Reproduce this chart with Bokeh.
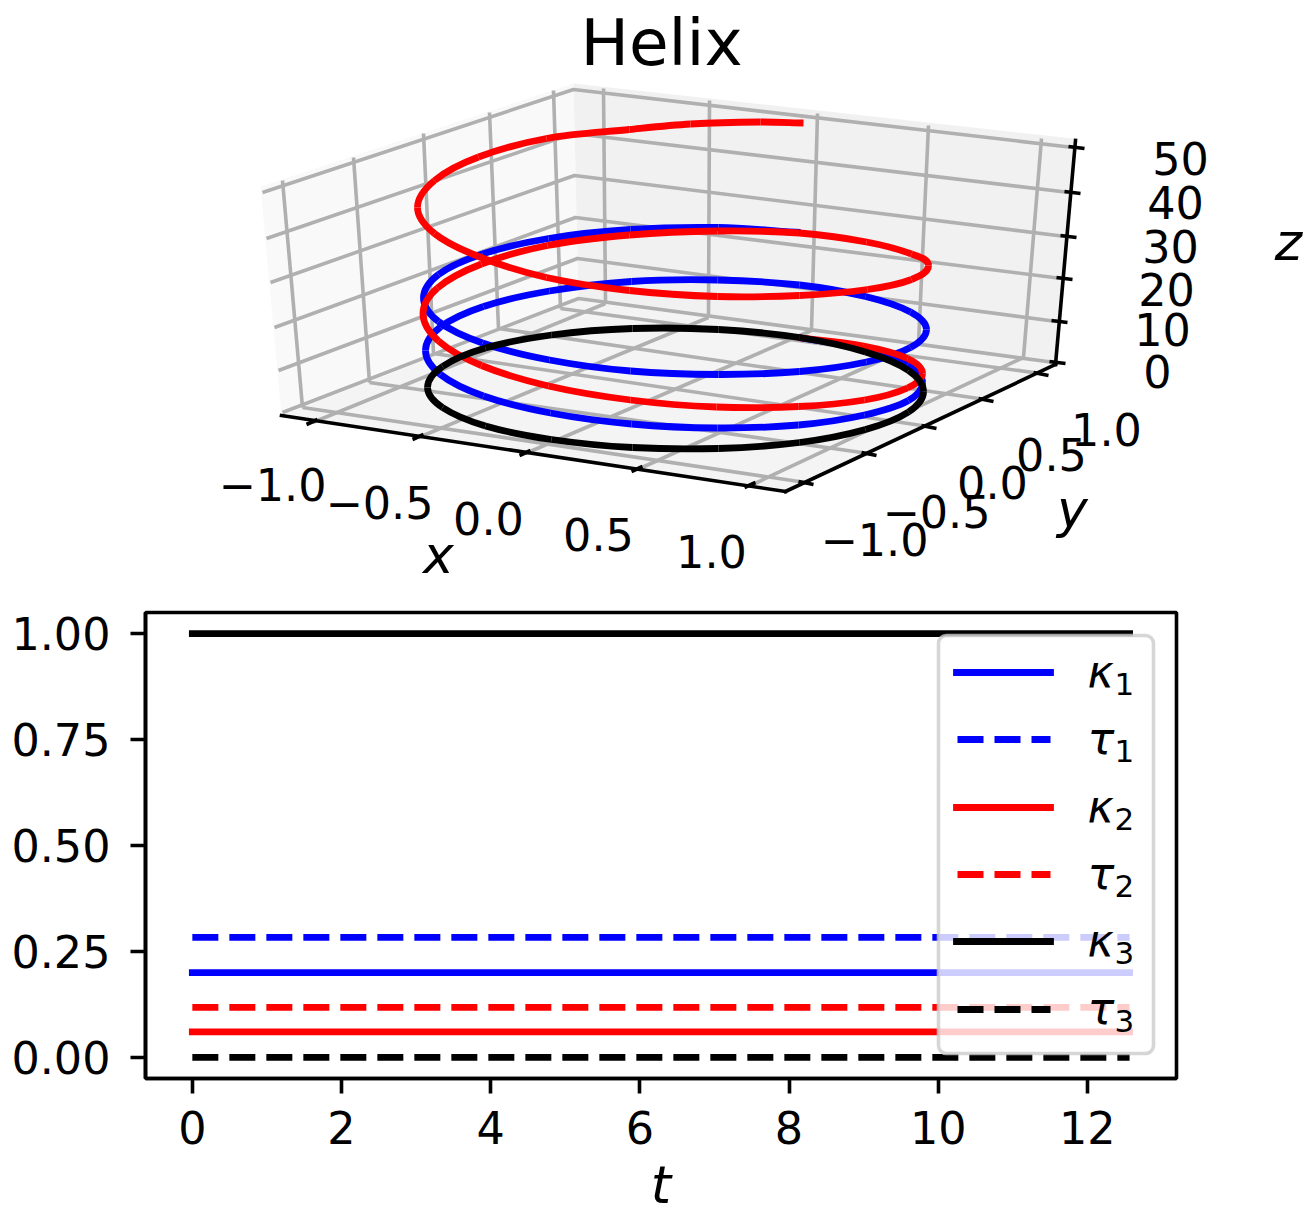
from bokeh.plotting import figure
from bokeh.layouts import column, row
from bokeh.models import Range1d, FixedTicker, NumeralTickFormatter
from bokeh.core.properties import value
from bokeh.embed import file_html
from bokeh.resources import INLINE
import math

# --- 3D scene ---
pane_left_x = [260, 573, 578, 281]
pane_left_y = [186, 83, 300, 415]
pane_back_x = [573, 1073, 1054, 578]
pane_back_y = [83, 138, 362, 300]
pane_floor_x = [281, 578, 1054, 785]
pane_floor_y = [415, 300, 362, 491]

zgrid_left = [(262, 192), (266, 238), (270, 282), (274, 327), (278, 370), (282, 412)]
zgrid_corner = [(573, 89), (573, 133), (574, 175), (575, 217), (577, 258), (578, 298)]
zgrid_right = [(1073, 147), (1069, 192), (1065, 236), (1061, 278), (1056, 321), (1054, 362)]
wall_y_top = [(282, 180), (353, 157), (423, 133), (489, 112), (553, 90)]
wall_y_bot = [(302, 407), (369, 382), (433, 353), (498, 328), (560, 308)]
wall_x_top = [(603, 88), (709, 100), (817, 113), (928, 125), (1041, 138)]
wall_x_bot = [(605, 303), (708, 317), (811, 330), (918, 343), (1023, 357)]
xtick_anchor = [(312, 422), (418, 437), (525, 453), (637, 469), (750, 485)]
ytick_anchor = [(805, 482), (868, 453), (928, 426), (985, 399), (1040, 373)]
axis_x_line = [(281, 415), (785, 491)]
axis_y_line = [(785, 491), (1055, 364)]
axis_z_line = [(1055, 364), (1075, 140)]

helix_blue = [
    (798, 337), (864, 348.5), (907, 364), (922, 382), (908, 400), (864, 414.5), (798, 424.5), (717, 427.5),
    (631, 423.5), (550, 412.5), (483, 395.5), (440, 374), (425, 350), (440, 326.5), (483, 306), (549, 290.5),
    (631, 281), (717, 279.5), (799, 284.5), (865, 296), (910, 311.5), (926, 329), (910, 347), (866, 361.5),
    (799, 371), (718, 374), (630, 370.5), (549, 359.5), (482, 342.5), (438, 321), (423, 297.5), (438, 274),
    (482, 253.5), (548, 238), (630, 229), (718, 227), (800, 232),
]
helix_red = [
    (797, 337), (863, 345.5), (907, 358), (922, 373), (907, 387.5), (864, 399.5), (798, 406), (716, 406.5),
    (630, 399.5), (548, 385.5), (481, 365), (438, 340.5), (422.5, 313.5), (437, 287.5), (481, 263.5),
    (547, 245), (629, 234.5), (717, 230.5), (799, 232.5), (866, 241.5), (911, 253.5), (928, 265), (911, 279),
    (867, 289), (799, 295), (717, 296), (629, 290), (546, 277), (478, 256), (434, 233), (417, 207),
    (434, 180), (478, 156.5), (546, 138), (629, 129), (690, 123.5), (760, 121.5), (803, 122.5),
]
helix_black = [
    (799, 337), (865, 351.5), (908, 370), (923, 391), (908, 411.5), (865, 429), (799, 442), (718, 448),
    (632, 447), (551, 439), (485, 425.5), (442, 407), (427, 387), (442, 366), (485, 347.5), (551, 334.5),
    (632, 328), (718, 329), (799, 337),
]

xtick_labels = [("\u22121.0", 272, 484), ("\u22120.5", 379, 502), ("0.0", 488, 518), ("0.5", 598, 534), ("1.0", 711, 551)]
ytick_labels = [("\u22121.0", 874, 539), ("\u22120.5", 936, 511), ("0.0", 992, 482), ("0.5", 1051, 454), ("1.0", 1106, 429)]
ztick_labels = [("0", 1157, 371), ("10", 1162, 329), ("20", 1166, 289), ("30", 1170, 246), ("40", 1175, 202), ("50", 1180, 158)]
scene_labels = [("x", 438, 554), ("y", 1072, 508), ("z", 1288, 241)]

# --- curvature / torsion series ---
t_span = [0, 12.566]
kappa_1 = [0.2, 0.2]
tau_1 = [0.283, 0.283]
kappa_2 = [0.06, 0.06]
tau_2 = [0.118, 0.118]
kappa_3 = [1.0, 1.0]
tau_3 = [0.0, 0.0]
legend_names = ["\u03ba", "\u03c4", "\u03ba", "\u03c4", "\u03ba", "\u03c4"]
legend_subs = ["1", "1", "2", "2", "3", "3"]
legend_rows = [672, 739, 807, 874, 941, 1009]
legend_colors = ["#0000ff", "#0000ff", "#ff0000", "#ff0000", "#000000", "#000000"]

FONT = value("DejaVu Sans")
GRID = "#b0b0b0"
LW = 3.6
CW = 6.8


def xs(pts):
    return [a for a, _ in pts]


def ys(pts):
    return [b for _, b in pts]


def smooth_segments(pts, closed=False):
    """Cubic Bezier pieces through the read points (tangent from neighbours)."""
    n = len(pts)
    tang = []
    for i in range(n):
        if closed:
            a, b = pts[(i - 1) % (n - 1)], pts[(i + 1) % (n - 1)]
        else:
            a, b = pts[max(i - 1, 0)], pts[min(i + 1, n - 1)]
        dx, dy = b[0] - a[0], b[1] - a[1]
        d = math.hypot(dx, dy) or 1.0
        tang.append((dx / d, dy / d))
    out = {k: [] for k in ("x0", "y0", "x1", "y1", "cx0", "cy0", "cx1", "cy1")}
    for i in range(n - 1):
        p, q = pts[i], pts[i + 1]
        h = math.hypot(q[0] - p[0], q[1] - p[1]) / 3
        out["x0"].append(p[0]); out["y0"].append(p[1])
        out["x1"].append(q[0]); out["y1"].append(q[1])
        out["cx0"].append(p[0] + tang[i][0] * h); out["cy0"].append(p[1] + tang[i][1] * h)
        out["cx1"].append(q[0] - tang[i + 1][0] * h); out["cy1"].append(q[1] - tang[i + 1][1] * h)
    return out


# ---------- top panel ----------
p1 = figure(width=1310, height=590, x_range=Range1d(0, 1310), y_range=Range1d(590, 0),
            output_backend="svg", toolbar_location=None, min_border=0,
            x_axis_location=None, y_axis_location=None, outline_line_color=None)
p1.grid.visible = False

p1.patch(pane_left_x, pane_left_y, fill_color="#f9f9f9", line_color=None)
p1.patch(pane_back_x, pane_back_y, fill_color="#f1f1f1", line_color=None)
p1.patch(pane_floor_x, pane_floor_y, fill_color="#f4f4f4", line_color=None)

p1.multi_line([[a[0], b[0], c[0]] for a, b, c in zip(zgrid_left, zgrid_corner, zgrid_right)],
              [[a[1], b[1], c[1]] for a, b, c in zip(zgrid_left, zgrid_corner, zgrid_right)],
              line_color=GRID, line_width=LW)
for top, bot in ((wall_y_top, wall_y_bot), (wall_x_top, wall_x_bot)):
    p1.segment(xs(top), ys(top), xs(bot), ys(bot), line_color=GRID, line_width=LW)
p1.segment(xs(wall_x_bot), ys(wall_x_bot), xs(xtick_anchor), ys(xtick_anchor), line_color=GRID, line_width=LW)
p1.segment(xs(wall_y_bot), ys(wall_y_bot), xs(ytick_anchor), ys(ytick_anchor), line_color=GRID, line_width=LW)

for ax in (axis_x_line, axis_y_line, axis_z_line):
    p1.line(xs(ax), ys(ax), line_color="black", line_width=LW, line_cap="square")
p1.segment([a + 5 for a in xs(xtick_anchor)], [b - 3 for b in ys(xtick_anchor)],
           [a - 6 for a in xs(xtick_anchor)], [b + 2 for b in ys(xtick_anchor)], line_color="black", line_width=LW)
p1.segment([a - 7 for a in xs(ytick_anchor)], [b - 1 for b in ys(ytick_anchor)],
           [a + 8 for a in xs(ytick_anchor)], [b + 2 for b in ys(ytick_anchor)], line_color="black", line_width=LW)
p1.segment([a - 5 for a in xs(zgrid_right)], [b - 1 for b in ys(zgrid_right)],
           [a + 11 for a in xs(zgrid_right)], [b + 1 for b in ys(zgrid_right)], line_color="black", line_width=LW)

for pts, col, closed in ((helix_blue, "#0000ff", False), (helix_red, "#ff0000", False), (helix_black, "#000000", True)):
    s = smooth_segments(pts, closed)
    p1.bezier(s["x0"], s["y0"], s["x1"], s["y1"], s["cx0"], s["cy0"], s["cx1"], s["cy1"],
              line_color=col, line_width=CW, line_cap="butt")

for group in (xtick_labels, ytick_labels, ztick_labels):
    p1.text([g[1] for g in group], [g[2] for g in group], text=[g[0] for g in group],
            text_font=FONT, text_font_size="44.5px", text_align="center", text_baseline="middle",
            text_color="black")
p1.text([g[1] for g in scene_labels], [g[2] for g in scene_labels], text=[g[0] for g in scene_labels],
        text_font=FONT, text_font_size="52px", text_font_style="italic", text_align="center",
        text_baseline="middle", text_color="black")
p1.text([661], [42], text=["Helix"], text_font=FONT, text_font_size="64.5px", text_align="center",
        text_baseline="middle", text_color="black")

# ---------- bottom panel ----------
p2 = figure(width=1310, height=627, x_range=Range1d(-0.628, 13.195), y_range=Range1d(-0.05, 1.05),
            output_backend="svg", toolbar_location=None,
            min_border_left=145, min_border_right=134, min_border_top=22, min_border_bottom=139,
            outline_line_color="black", outline_line_width=LW)
p2.grid.visible = False
p2.extra_x_ranges["px"] = Range1d(145, 1176)
p2.extra_y_ranges["py"] = Range1d(1078, 612)

for ax in (p2.xaxis[0], p2.yaxis[0]):
    ax.axis_line_width = LW
    ax.major_tick_line_width = LW
    ax.major_tick_out = 15
    ax.major_tick_in = 0
    ax.minor_tick_line_color = None
    ax.major_label_text_font = "DejaVu Sans"
    ax.major_label_text_font_size = "44.5px"
    ax.major_label_text_color = "black"
    ax.major_tick_line_color = "black"
    ax.axis_line_color = "black"
p2.xaxis[0].ticker = FixedTicker(ticks=[0, 2, 4, 6, 8, 10, 12])
p2.yaxis[0].ticker = FixedTicker(ticks=[0, 0.25, 0.5, 0.75, 1.0])
p2.yaxis[0].formatter = NumeralTickFormatter(format="0.00")
p2.xaxis[0].major_label_standoff = 17
p2.yaxis[0].major_label_standoff = 20
p2.xaxis[0].axis_label = "t"
p2.xaxis[0].axis_label_text_font = "DejaVu Sans"
p2.xaxis[0].axis_label_text_font_style = "italic"
p2.xaxis[0].axis_label_text_font_size = "52px"
p2.xaxis[0].axis_label_text_color = "black"
p2.xaxis[0].axis_label_standoff = 8

for vals, col in ((kappa_1, "#0000ff"), (kappa_2, "#ff0000"), (kappa_3, "#000000")):
    p2.line(t_span, vals, line_color=col, line_width=CW, line_cap="square")
for vals, col in ((tau_1, "#0000ff"), (tau_2, "#ff0000"), (tau_3, "#000000")):
    p2.line(t_span, vals, line_color=col, line_width=CW, line_dash="26 11")

# legend frame and entries
p2.quad(left=[938], right=[1153], top=[635], bottom=[1053], x_range_name="px", y_range_name="py",
        fill_color="white", fill_alpha=0.8, line_color="#cccccc", line_alpha=0.8, line_width=LW,
        border_radius=8)
for i, (r, col) in enumerate(zip(legend_rows, legend_colors)):
    if i % 2 == 0:
        p2.line([956, 1050], [r, r], x_range_name="px", y_range_name="py", line_color=col,
                line_width=CW, line_cap="square")
    else:
        p2.line([957, 1050], [r, r], x_range_name="px", y_range_name="py", line_color=col,
                line_width=CW, line_dash="26 11")
p2.text([1087] * 6, [r - 1 for r in legend_rows], text=legend_names, x_range_name="px", y_range_name="py",
        text_font=FONT, text_font_size="44.5px", text_font_style="italic", text_baseline="middle",
        text_align="left", text_color="black")
p2.text([1114] * 6, [r + 11 for r in legend_rows], text=legend_subs, x_range_name="px", y_range_name="py",
        text_font=FONT, text_font_size="31px", text_baseline="middle", text_align="left",
        text_color="black")

layout = column(row(p1), row(p2), spacing=0)
open("out.html", "w").write(file_html(layout, INLINE))
